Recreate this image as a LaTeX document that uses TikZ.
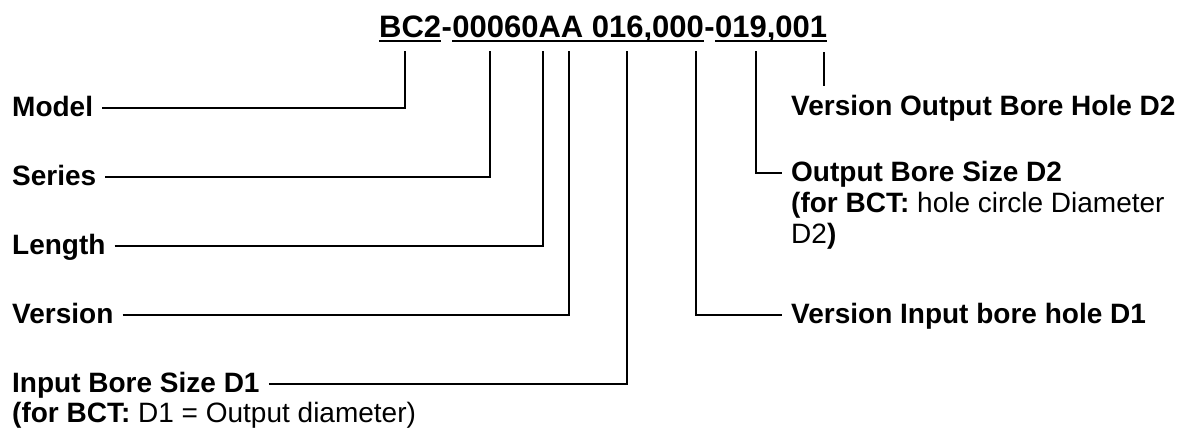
\documentclass[tikz,border=0pt]{standalone}
\usepackage{fontspec}
\setmainfont{Liberation Sans}
\usetikzlibrary{calc}
\begin{document}
\begin{tikzpicture}[x=1pt,y=-1pt,
  lbl/.style={anchor=base west,inner sep=0pt,font=\fontsize{28}{31}\selectfont\bfseries},
  ttl/.style={anchor=base west,inner sep=0pt,font=\fontsize{31}{34}\selectfont\bfseries},
  conn/.style={line width=1.8pt},
  uline/.style={line width=2.4pt}]
\useasboundingbox (0,0) rectangle (1196,432);
% title
\node[ttl] (tA) at (379,37) {BC2};
\node[ttl] (th1) at (tA.base east) {-};
\node[ttl] (tB) at (th1.base east) {00060AA 016,000};
\node[ttl] (th2) at (tB.base east) {-};
\node[ttl] (tC) at (th2.base east) {019,001};
\foreach \n in {tA,tB,tC}
  \draw[uline] ($(\n.base west)+(0,4)$) -- ($(\n.base east)+(0,4)$);
% tick tops
\coordinate (k1) at (405,51);
\coordinate (k2) at (490,51);
\coordinate (k3) at (543,51);
\coordinate (k4) at (569,51);
\coordinate (k5) at (627,51);
\coordinate (k6) at (696,51);
\coordinate (k7) at (756,51);
\coordinate (k8) at (824,52);
% left labels
\node[lbl] (model) at (12,116) {Model};
\node[lbl] (series) at (12,185) {Series};
\node[lbl] (length) at (12,254) {Length};
\node[lbl] (version) at (12,323) {Version};
\node[lbl] (inbore) at (12,392) {Input Bore Size D1};
\node[lbl] (inbore2) at (12,422) {(for BCT:\mdseries\ D1 = Output diameter)};
% right labels
\node[lbl] (vout) at (791,115) {Version Output Bore Hole D2};
\node[lbl] (obs) at (791,181) {Output Bore Size D2};
\node[lbl] (obs2) at (791,212) {(for BCT:\mdseries\ hole circle Diameter};
\node[lbl] (obs3) at (791,243) {\mdseries D2\bfseries)};
\node[lbl] (vin) at (791,323) {Version Input bore hole D1};
% connectors
\draw[conn] ($(model.base east)+(9,-8)$) -| (k1);
\draw[conn] ($(series.base east)+(9,-8)$) -| (k2);
\draw[conn] ($(length.base east)+(9,-8)$) -| (k3);
\draw[conn] ($(version.base east)+(9,-8)$) -| (k4);
\draw[conn] ($(inbore.base east)+(9,-8)$) -| (k5);
\draw[conn] (k6) |- ($(vin.base west)+(-9,-8)$);
\draw[conn] (k7) |- ($(obs.base west)+(-9,-8)$);
\draw[conn] (k8) -- ($(vout.north -| k8)+(0,-9)$);
\end{tikzpicture}
\end{document}
